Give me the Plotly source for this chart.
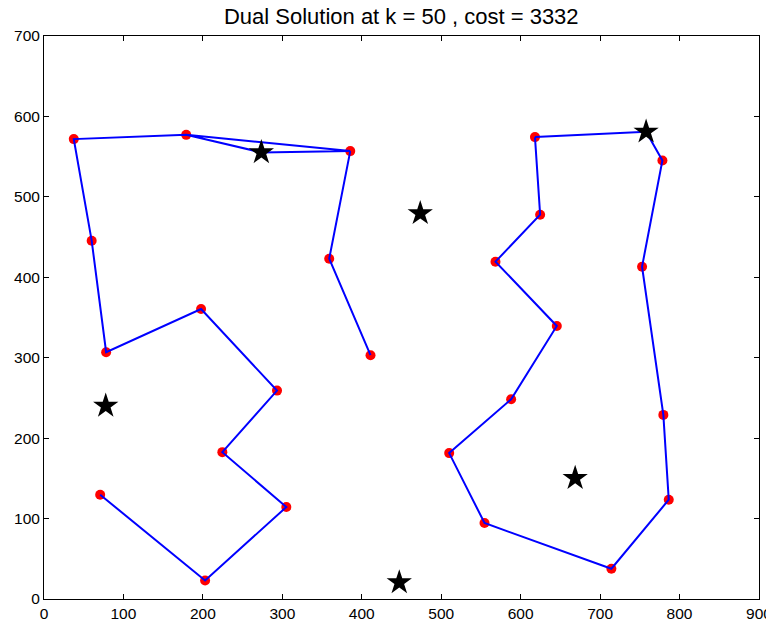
import plotly.graph_objects as go

# customer points (red dots)
cust_x = [37.5, 179, 385.5, 60, 359, 197.7, 78.2, 411, 293.3, 224.5, 305, 70.7, 202.8,
          618, 778.4, 624.5, 568.3, 752.8, 645.5, 588, 779.6, 510, 786.4, 554.5, 714.2]
cust_y = [571.8, 577.1, 556.9, 445.5, 423.1, 360.6, 306.8, 303.1, 259.1, 182.6, 114.3, 129.6, 23.1,
          574.3, 545.3, 477.8, 419.4, 413.2, 339.5, 248.4, 228.9, 181.4, 123.4, 94.5, 37.6]

# facility / depot stars
star_x = [273.6, 473.6, 757.9, 77.7, 668.6, 447.2]
star_y = [555.3, 479.5, 580.9, 240.1, 150.3, 20.6]

# left route pieces (None separates polylines)
left_x = [70.7, 202.8, 305, 224.5, 293.3, 197.7, 78.2, 60, 37.5, 179, 273.6, 385.5, 179,
          None, 385.5, 359, 411]
left_y = [129.6, 23.1, 114.3, 182.6, 259.1, 360.6, 306.8, 445.5, 571.8, 577.1, 555.3, 556.9, 577.1,
          None, 556.9, 423.1, 303.1]

# right route (closed loop)
right_x = [618, 757.9, 778.4, 752.8, 779.6, 786.4, 714.2, 554.5, 510, 588, 645.5, 568.3, 624.5, 618]
right_y = [574.3, 580.9, 545.3, 413.2, 228.9, 123.4, 37.6, 94.5, 181.4, 248.4, 339.5, 419.4, 477.8, 574.3]

x_ticks = [0, 100, 200, 300, 400, 500, 600, 700, 800, 900]
y_ticks = [0, 100, 200, 300, 400, 500, 600, 700]

# the page body adds an 8px offset; compensate in margins
OFF = 8
W, H = 774, 623
plot_left, plot_right, plot_top, plot_bottom = 43.5, 759, 36, 599.5

fig = go.Figure()
fig.add_trace(go.Scatter(x=cust_x, y=cust_y, mode="markers",
                         marker=dict(color="#ff0000", size=10, line=dict(width=0)),
                         hoverinfo="skip"))
fig.add_trace(go.Scatter(x=left_x, y=left_y, mode="lines",
                         line=dict(color="#0000ff", width=2), connectgaps=False))
fig.add_trace(go.Scatter(x=right_x, y=right_y, mode="lines",
                         line=dict(color="#0000ff", width=2)))
fig.add_trace(go.Scatter(x=star_x, y=star_y, mode="markers",
                         marker=dict(symbol="star", color="black", size=19,
                                     line=dict(width=0))))

axis_common = dict(showgrid=False, zeroline=False, showline=True, linecolor="black",
                   linewidth=1, mirror="allticks", ticks="inside", ticklen=5,
                   tickcolor="black", automargin=False,
                   tickfont=dict(family="Liberation Sans, Arial", size=15.5, color="black"))
fig.update_xaxes(range=[0, 900], tickvals=x_ticks, **axis_common)
fig.update_yaxes(range=[0, 700], tickvals=y_ticks, **axis_common)

fig.update_layout(
    width=W, height=H,
    margin=dict(l=plot_left - OFF, r=W - (plot_right - OFF), t=plot_top - OFF,
                b=H - (plot_bottom - OFF)),
    paper_bgcolor="white", plot_bgcolor="white",
    showlegend=False,
    title=dict(text="Dual Solution at k = 50 , cost = 3332",
               x=((plot_left + plot_right) / 2 - OFF) / W, xanchor="center",
               y=1 - (16 - OFF) / H, yanchor="middle",
               automargin=False,
               font=dict(family="Liberation Sans, Arial", size=22, color="black")),
)
fig.write_html("out.html")
